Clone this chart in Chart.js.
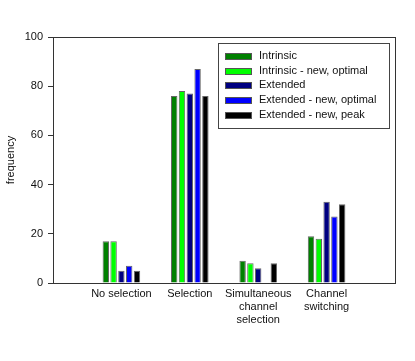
<!DOCTYPE html>
<html>
<head>
<meta charset="utf-8">
<script src="https://cdn.jsdelivr.net/npm/chart.js@4"></script>
<style>
    html, body { margin: 0; padding: 0; background: #fff; }
    #wrap { width: 415px; height: 361px; }
</style>
</head>
<body>
<div id="wrap"><canvas id="freqChart" width="415" height="361"></canvas></div>
<script>
// categories (empty slots at both ends keep the spacing of the original plot)
const categories = ["", "No selection", "Selection", ["Simultaneous", "channel", "selection"], ["Channel", "switching"], ""];
const seriesNames = ["Intrinsic", "Intrinsic - new, optimal", "Extended", "Extended - new, optimal", "Extended - new, peak"];
const seriesColors = ["#008000", "#00ff00", "#000080", "#0000ff", "#000000"];

// values
const intrinsic = [null, 17, 76, 9, 19, null];
const intrinsicNewOptimal = [null, 17, 78, 8, 18, null];
const extended = [null, 5, 77, 6, 33, null];
const extendedNewOptimal = [null, 7, 87, null, 27, null];
const extendedNewPeak = [null, 5, 76, 8, 32, null];
const yTicks = [0, 20, 40, 60, 80, 100];

const seriesValues = [intrinsic, intrinsicNewOptimal, extended, extendedNewOptimal, extendedNewPeak];
const fontFamily = "'Liberation Sans', Arial, sans-serif";

// frame around the plot + legend box in the upper right
const framePlugin = {
    id: "frameAndLegend",
    afterDraw(chart) {
        const ctx = chart.ctx;
        const area = chart.chartArea;
        ctx.save();
        ctx.strokeStyle = "#333";
        ctx.lineWidth = 1;
        ctx.strokeRect(Math.round(area.left) + 0.5, Math.round(area.top) + 0.5,
            Math.round(area.right - area.left), Math.round(area.bottom - area.top));

        // legend
        const bx = 218, by = 43, bw = 171, bh = 85;
        ctx.strokeStyle = "#444";
        ctx.strokeRect(bx + 0.5, by + 0.5, bw, bh);
        ctx.font = "11px " + fontFamily;
        ctx.textBaseline = "middle";
        chart.data.datasets.forEach((ds, i) => {
            const cy = 56 + i * 14.7;
            ctx.fillStyle = ds.backgroundColor;
            ctx.fillRect(225, Math.round(cy - 3), 27, 7);
            ctx.strokeStyle = "#555";
            ctx.strokeRect(225.5, Math.round(cy - 3) + 0.5, 26, 6);
            ctx.fillStyle = "#111";
            ctx.fillText(ds.label, 259, cy);
        });
        ctx.restore();
    }
};

const ctxFreq = document.getElementById("freqChart");
const dataFreq = {
    labels: categories,
    datasets: seriesNames.map((name, i) => ({
        label: name,
        data: seriesValues[i],
        backgroundColor: seriesColors[i],
        borderColor: "#666",
        borderWidth: 1,
        barPercentage: 0.82,
        categoryPercentage: 0.57,
    })),
};
const configFreq = {
    type: "bar",
    data: dataFreq,
    plugins: [framePlugin],
    options: {
        responsive: false,
        animation: false,
        layout: { padding: { left: 0, top: 37, right: 20, bottom: 0 } },
        plugins: {
            legend: { display: false },
            tooltip: { enabled: false },
        },
        scales: {
            x: {
                type: "category",
                offset: false,
                grid: { display: false, drawTicks: false, tickLength: 0 },
                border: { display: true, color: "#333", width: 1 },
                ticks: {
                    autoSkip: false,
                    maxRotation: 0,
                    padding: 4,
                    color: "#111",
                    font: { family: fontFamily, size: 11, lineHeight: 1.2 },
                },
                afterFit: (scale) => { scale.height = 78; },
            },
            y: {
                min: 0,
                max: 100,
                afterBuildTicks: (scale) => { scale.ticks = yTicks.map(v => ({ value: v })); },
                grid: { drawOnChartArea: false, drawTicks: true, tickLength: 5, color: "#333" },
                border: { display: true, color: "#333", width: 1 },
                ticks: {
                    padding: 5,
                    color: "#111",
                    font: { family: fontFamily, size: 11 },
                },
                title: {
                    display: true,
                    text: "frequency",
                    color: "#111",
                    padding: { top: 4, bottom: 0 },
                    font: { family: fontFamily, size: 11 },
                },
                afterFit: (scale) => { scale.width = 53; },
            },
        },
    },
};
new Chart(ctxFreq, configFreq);
</script>
</body>
</html>
